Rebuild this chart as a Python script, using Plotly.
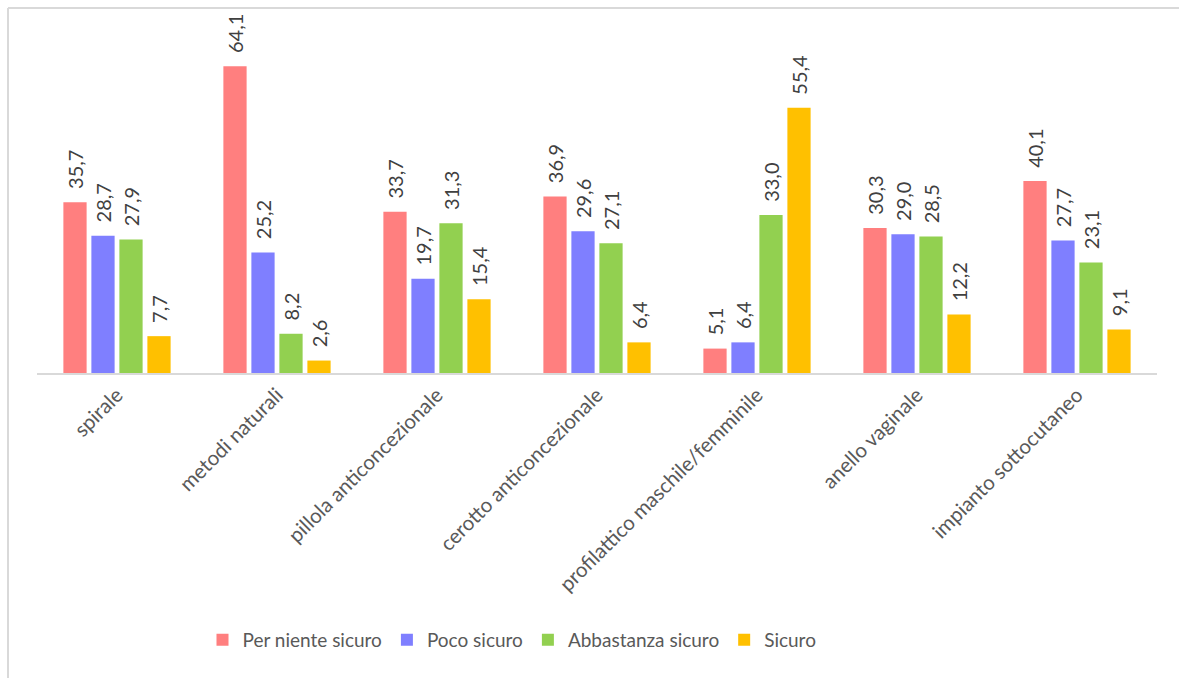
import plotly.graph_objects as go

categories = [
    "spirale",
    "metodi naturali",
    "pillola anticoncezionale",
    "cerotto anticoncezionale",
    "profilattico maschile/femminile",
    "anello vaginale",
    "impianto sottocutaneo",
]

per_niente_sicuro = [35.7, 64.1, 33.7, 36.9, 5.1, 30.3, 40.1]
poco_sicuro = [28.7, 25.2, 19.7, 29.6, 6.4, 29.0, 27.7]
abbastanza_sicuro = [27.9, 8.2, 31.3, 27.1, 33.0, 28.5, 23.1]
sicuro = [7.7, 2.6, 15.4, 6.4, 55.4, 12.2, 9.1]

series = [
    ("Per niente sicuro", per_niente_sicuro, "#FF7F7F"),
    ("Poco sicuro", poco_sicuro, "#7F7FFF"),
    ("Abbastanza sicuro", abbastanza_sicuro, "#92D050"),
    ("Sicuro", sicuro, "#FFC000"),
]

W, H = 1179, 678
L, R, T, B = 37, 22, 38, 305
plot_w = W - L - R
plot_h = H - T - B


def px_x(p):
    return (p - L) / plot_w


def px_y(p):
    return (H - B - p) / plot_h


fig = go.Figure()
for name, vals, color in series:
    fig.add_trace(go.Bar(
        name=name,
        x=categories,
        y=vals,
        marker=dict(color=color, line=dict(width=0)),
        texttemplate="\u00a0\u00a0%{y:.1f}",
        textposition="outside",
        textangle=-90,
        constraintext="none",
        cliponaxis=False,
        textfont=dict(family="Lato", size=20, color="#404040"),
    ))

# chart frame: top and left edges
fig.add_shape(type="line", xref="paper", yref="paper",
              x0=px_x(8), y0=px_y(H + 5), x1=px_x(8), y1=px_y(8),
              line=dict(color="#D9D9D9", width=2))
fig.add_shape(type="line", xref="paper", yref="paper",
              x0=px_x(8), y0=px_y(8), x1=px_x(W + 5), y1=px_y(8),
              line=dict(color="#D9D9D9", width=2))

fig.update_layout(
    width=W, height=H,
    margin=dict(l=L, r=R, t=T, b=B, autoexpand=False),
    barmode="group",
    bargap=0.3,
    bargroupgap=0.17,
    separators=",.",
    paper_bgcolor="white",
    plot_bgcolor="white",
    font=dict(family="Lato", color="#595959"),
    xaxis=dict(
        showline=True, linecolor="#D9D9D9", linewidth=2,
        ticks="", tickangle=-45,
        tickfont=dict(family="Lato", size=20.5, color="#595959"),
        showgrid=False,
    ),
    yaxis=dict(
        range=[0, 70], visible=False, showgrid=False, zeroline=False,
    ),
    legend=dict(
        orientation="h", x=px_x(512), xanchor="center",
        y=px_y(640), yanchor="middle",
        font=dict(family="Lato", size=19, color="#595959"),
        itemwidth=30,
    ),
    showlegend=True,
)

fig.write_html("out.html")
